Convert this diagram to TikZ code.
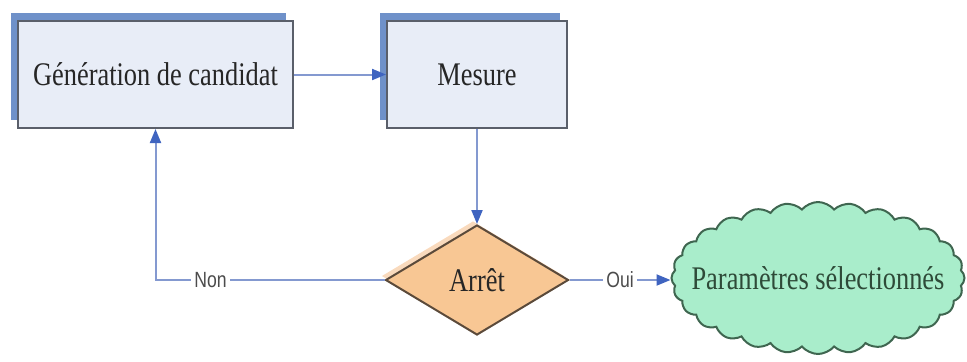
\documentclass[tikz,border=0pt]{standalone}
\usepackage{fontspec}
\setmainfont{Liberation Serif}[FakeStretch=0.8]
\newfontfamily\labelfont{Liberation Sans}[FakeStretch=0.8]
\usepackage{tikz}
\usetikzlibrary{arrows.meta,shapes.geometric,shapes.symbols,shadows}

\definecolor{boxfill}{HTML}{E8EDF7}
\definecolor{boxline}{HTML}{5A5F6A}
\definecolor{shadowblue}{HTML}{6F91C9}
\definecolor{testfill}{HTML}{F8C794}
\definecolor{testline}{HTML}{5B4A3A}
\definecolor{testshadow}{HTML}{F9DABD}
\definecolor{cloudfill}{HTML}{A9EDCB}
\definecolor{cloudline}{HTML}{3F6650}
\definecolor{cloudtext}{HTML}{2E4A38}
\definecolor{linecol}{HTML}{8499D0}
\definecolor{arrowcol}{HTML}{3F64C0}

\begin{document}
\begin{tikzpicture}[x=0.5pt,y=-0.5pt,
    proc_node/.style={rectangle,draw=boxline,line width=1pt,fill=boxfill,
      text=black!85,font=\fontsize{16.5}{19}\selectfont,
      drop shadow={shadow xshift=-3.5pt,shadow yshift=4pt,fill=shadowblue,opacity=1}},
    test_node/.style={diamond,draw=testline,line width=1pt,fill=testfill,inner sep=0pt,
      text=black!85,font=\fontsize{16.5}{19}\selectfont,
      drop shadow={shadow xshift=-2pt,shadow yshift=2pt,fill=testshadow,opacity=1}},
    end_node/.style={cloud,cloud puffs=28,cloud puff arc=100,draw=cloudline,line width=1pt,
      fill=cloudfill,inner sep=0pt,text=cloudtext,font=\fontsize{16.5}{19}\selectfont},
    conn/.style={draw=linecol,line width=1pt,-{Triangle[length=7pt,width=5.5pt,color=arrowcol]}},
    edge_label/.style={fill=white,inner sep=1.5pt,text=black!70,font=\labelfont\fontsize{11}{13}\selectfont}]

    \useasboundingbox (0,0) rectangle (967,361);

    \node[proc_node,minimum width=137.5pt,minimum height=53.5pt] (gen) at (155.5,74.5) {Génération de candidat};
    \node[proc_node,minimum width=90pt,minimum height=53.5pt] (mes) at (477,74.5) {Mesure};
    \node[test_node,minimum width=91.5pt,minimum height=55pt] (arret) at (477,280) {Arrêt};
    \node[end_node,minimum width=146.5pt,minimum height=76pt] (result) at (818,278) {\makebox[0pt]{Paramètres sélectionnés}};

  \path[conn]
    (gen) edge (mes)
    (mes) edge (arret)
    (arret) edge node[edge_label] {Oui} (result.west |- arret);

    % retour vers la generation
    \draw[conn] (arret) -| node[edge_label,pos=0.38] {Non} (gen);

\end{tikzpicture}
\end{document}
